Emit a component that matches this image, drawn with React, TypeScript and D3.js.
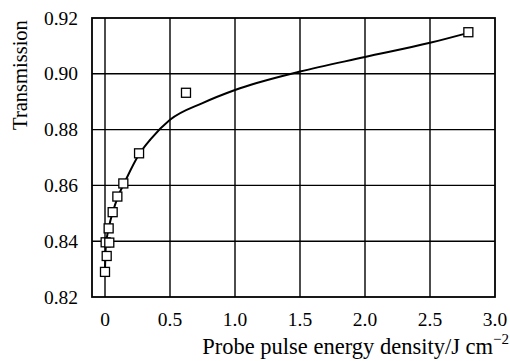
import React from "react";
import * as d3 from "d3";

const pointX = [0.0, 0.005, 0.013, 0.033, 0.028, 0.059, 0.095, 0.141, 0.262, 0.623, 2.795];
const pointY = [0.829, 0.8396, 0.8347, 0.8395, 0.8446, 0.8504, 0.856, 0.8607, 0.8715, 0.8932, 0.9149];

const curveX = [0.0, 0.006, 0.03, 0.06, 0.1, 0.15, 0.26, 0.35, 0.5, 0.75, 1.0, 1.5, 2.0, 2.5, 2.78];
const curveY = [0.83, 0.838, 0.845, 0.8505, 0.856, 0.861, 0.871, 0.8765, 0.8835, 0.8895, 0.8942, 0.9008, 0.906, 0.9111, 0.9145];

const xTicks = [0, 0.5, 1.0, 1.5, 2.0, 2.5, 3.0];
const xTickLabels = ["0", "0.5", "1.0", "1.5", "2.0", "2.5", "3.0"];
const yTicks = [0.82, 0.84, 0.86, 0.88, 0.9, 0.92];
const yTickLabels = ["0.82", "0.84", "0.86", "0.88", "0.90", "0.92"];

export default function App() {
  const W = 510, H = 361;
  const left = 92, right = 495, top = 18, bottom = 297;
  const x = d3.scaleLinear().domain([-0.1, 3.0]).range([left, right]);
  const y = d3.scaleLinear().domain([0.82, 0.92]).range([bottom, top]);
  const line = d3
    .line<number>()
    .x((_, i) => x(curveX[i]))
    .y((d) => y(d))
    .curve(d3.curveMonotoneX);
  const font = "'Liberation Serif', 'Times New Roman', serif";
  const s = 9;
  return (
    <svg width={W} height={H} style={{ position: "absolute", left: 0, top: 0 }} fontFamily={font}>
      <rect x={0} y={0} width={W} height={H} fill="#fff" />
      {xTicks.slice(0, -1).map((t) => (
        <line key={"gx" + t} x1={x(t)} x2={x(t)} y1={top} y2={bottom} stroke="#000" strokeWidth={1.4} />
      ))}
      {yTicks.slice(1, -1).map((t) => (
        <line key={"gy" + t} x1={left} x2={right} y1={y(t)} y2={y(t)} stroke="#000" strokeWidth={1.4} />
      ))}
      <rect x={left} y={top} width={right - left} height={bottom - top} fill="none" stroke="#000" strokeWidth={1.8} />
      <path d={line(curveY) || ""} fill="none" stroke="#000" strokeWidth={2} />
      {pointX.map((px, i) => (
        <rect
          key={"p" + i}
          x={x(px) - s / 2}
          y={y(pointY[i]) - s / 2}
          width={s}
          height={s}
          fill="#fff"
          stroke="#000"
          strokeWidth={1.3}
        />
      ))}
      {xTicks.map((t, i) => (
        <text key={"xt" + t} x={x(t)} y={bottom + 29} textAnchor="middle" fontSize={19.5} fill="#000">
          {xTickLabels[i]}
        </text>
      ))}
      {yTicks.map((t, i) => (
        <text key={"yt" + t} x={78} y={y(t) + 6.5} textAnchor="end" fontSize={19.5} fill="#000">
          {yTickLabels[i]}
        </text>
      ))}
      <text x={509} y={354} textAnchor="end" fontSize={22.5} fill="#000">
        Probe pulse energy density/J cm
        <tspan dy={-10} fontSize={15}>−2</tspan>
      </text>
      <text
        transform={`translate(27, 75) rotate(-90)`}
        textAnchor="middle"
        fontSize={20.5}
        fill="#000"
      >
        Transmission
      </text>
    </svg>
  );
}
